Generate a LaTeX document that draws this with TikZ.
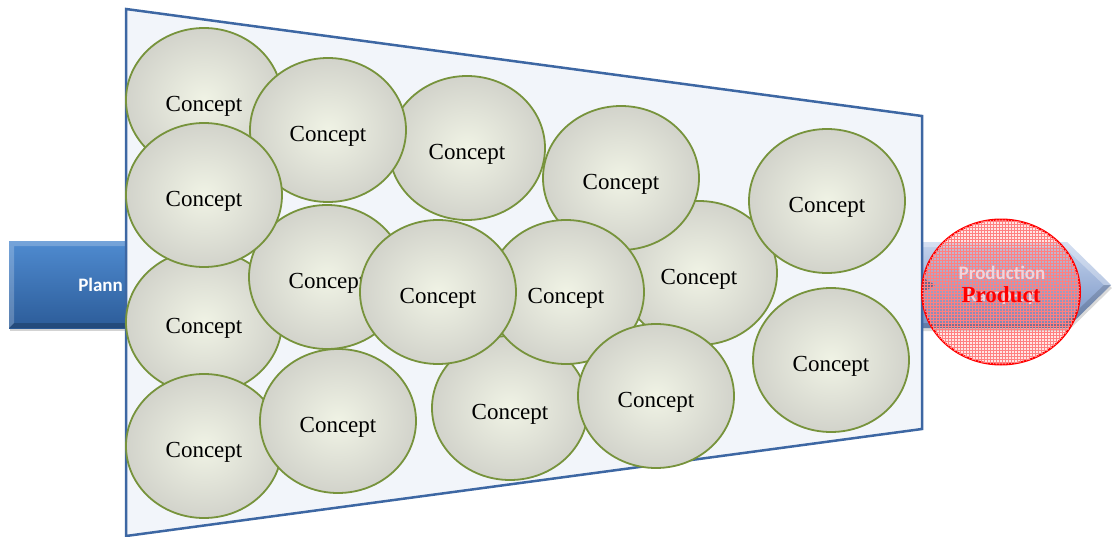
\documentclass[tikz,border=0pt]{standalone}
\usepackage{fontspec}
\setmainfont{Liberation Serif}
\newfontfamily\labelfont{Carlito}
\usetikzlibrary{shapes.geometric,shadows,patterns}

\definecolor{funnelfill}{HTML}{F2F5FA}
\definecolor{funneledge}{HTML}{3D67A3}
\definecolor{conceptedge}{HTML}{77933C}
\definecolor{conceptin}{HTML}{F0F3E5}
\definecolor{conceptout}{HTML}{D2D3CB}
\definecolor{plantop}{HTML}{4F8BD0}
\definecolor{planmid}{HTML}{3C74B8}
\definecolor{planbot}{HTML}{2C5C99}
\definecolor{prodtop}{HTML}{C4D3EC}
\definecolor{prodmid}{HTML}{97B0DC}
\definecolor{prodbot}{HTML}{7491C4}
\definecolor{stagepink}{HTML}{F3DCE2}

\tikzset{
  concept/.style={ellipse, minimum width=156pt, minimum height=144pt, inner sep=0pt,
    draw=conceptedge, line width=1.8pt, shading=radial,
    inner color=conceptin, outer color=conceptout,
    text height=22pt, text depth=0pt,
    font=\fontsize{23}{27}\selectfont},
  stagetext/.style={font=\labelfont\bfseries\fontsize{19}{22}\selectfont, inner sep=0pt},
  productmark/.style={ellipse, minimum width=158pt, minimum height=145pt, inner sep=0pt,
    draw=red, line width=2pt, fill=red, fill opacity=0.1,
    postaction={pattern=grid, pattern color=red!50!white, fill opacity=0.22}},
  producttext/.style={text=red, inner sep=0pt, font=\bfseries\fontsize{23}{27}\selectfont},
}

\begin{document}
\begin{tikzpicture}[x=1pt,y=-1pt]
\useasboundingbox (0,0) rectangle (1112,536);

% planning stage arrow (its head runs under the funnel)
\path[top color=plantop, middle color=planmid, bottom color=planbot,
      drop shadow={opacity=0.35, shadow xshift=1pt, shadow yshift=-3pt}]
  (9,241) rectangle (140,328);
\fill[white, opacity=0.22] (9,241) -- (140,241) -- (140,246) -- (14,246) -- (14,323) -- (9,328) -- cycle;
\fill[black, opacity=0.2] (9,328) -- (14,323) -- (140,323) -- (140,328) -- cycle;
\node[stagetext, text=white, anchor=base east] (plan) at (123,291) {Plann};

% production stage arrow
\path[top color=prodtop, middle color=prodmid, bottom color=prodbot,
      drop shadow={opacity=0.3, shadow xshift=1pt, shadow yshift=-3pt}]
  (916,242) -- (1067,242) -- (1111,285) -- (1067,328) -- (916,328) -- cycle;
\fill[white, opacity=0.3] (916,242) -- (1067,242) -- (1111,285) -- (1104,285) -- (1064,247) -- (916,247) -- cycle;
\fill[black, opacity=0.15] (916,328) -- (1067,328) -- (1111,285) -- (1104,285) -- (1064,323) -- (916,323) -- cycle;
\fill[prodbot!80!black] (922,277) -- (935,285) -- (922,293) -- cycle;

% the funnel
\coordinate (ftl) at (126,9);
\coordinate (ftr) at (922,116);
\coordinate (fbr) at (922,429);
\coordinate (fbl) at (126,536);
\draw[fill=funnelfill, draw=funneledge, line width=2.5pt, line join=miter]
  (ftl) -- (ftr) -- (fbr) -- (fbl) -- cycle;

% concepts, back to front
\node[concept] (c1)  at (204,100) {Concept};
\node[concept] (c3)  at (467,148) {Concept};
\node[concept] (c2)  at (328,130) {Concept};
\node[concept] (c11) at (204,322) {Concept};
\node[concept] (c7)  at (327,277) {Concept};
\node[concept] (c6)  at (204,195) {Concept};
\node[concept] (c13) at (204,446) {Concept};
\node[concept] (c14) at (338,421) {Concept};
\node[concept] (c10) at (699,273) {Concept};
\node[concept] (c4)  at (621,178) {Concept};
\node[concept] (c5)  at (827,201) {Concept};
\node[concept] (c15) at (510,408) {Concept};
\node[concept] (c9)  at (566,292) {Concept};
\node[concept] (c8)  at (438,292) {Concept};
\node[concept] (c16) at (656,396) {Concept};
\node[concept] (c12) at (831,360) {Concept};

% the product that leaves the funnel
\node[productmark] (product) at (1001,292) {};
\node[stagetext, text=stagepink, opacity=0.9] (prodA) at (1002,273) {Production};
\node[stagetext, text=stagepink, opacity=0.9] (prodB) at (1002,297) {Ramp-up};
\node[producttext] (productname) at (1001,295) {Product};
\end{tikzpicture}
\end{document}
